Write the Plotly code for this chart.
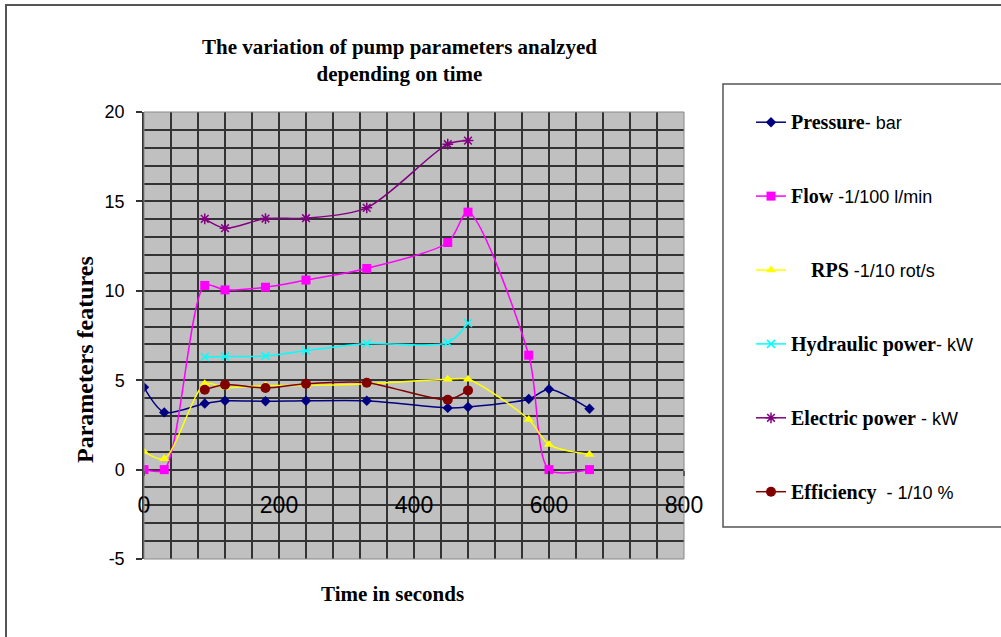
import plotly.graph_objects as go

# ---- data ----
time_all = [0, 30, 90, 120, 180, 240, 330, 450, 480, 570, 600, 660]
time_mid = [90, 120, 180, 240, 330, 450, 480]

pressure = [4.6, 3.2, 3.7, 3.85, 3.82, 3.85, 3.85, 3.45, 3.5, 3.95, 4.5, 3.4]
flow = [0.0, 0.0, 10.3, 10.05, 10.2, 10.6, 11.25, 12.7, 14.4, 6.4, 0.0, 0.0]
rps = [1.0, 0.6, 4.8, 4.6, 4.7, 4.7, 4.8, 5.05, 5.05, 2.8, 1.4, 0.85]
hydraulic = [6.3, 6.33, 6.35, 6.65, 7.05, 7.1, 8.2]
electric = [14.02, 13.5, 14.04, 14.06, 14.64, 18.2, 18.4]
efficiency = [4.47, 4.75, 4.56, 4.8, 4.86, 3.91, 4.43]

x_ticks = [0, 200, 400, 600, 800]
y_ticks = [-5, 0, 5, 10, 15, 20]

SERIF = "Liberation Serif"
SANS = "Liberation Sans"


def lab(bold, rest):
    return (f'<span style="font-family:{SERIF};font-size:20px"><b>{bold}</b></span>'
            f'{rest}')


series = [
    (lab("Pressure", "- bar"), time_all, pressure, "#000080", "diamond", 8, 0),
    (lab("Flow", " -1/100 l/min"), time_all, flow, "#FF00FF", "square", 9, 0),
    (lab("\u00a0\u00a0\u00a0\u00a0RPS", " -1/10 rot/s"), time_all, rps, "#FFFF00", "triangle-up", 9, 0),
    (lab("Hydraulic power", "- kW"), time_mid, hydraulic, "#00FFFF", "x-thin", 8, 1.5),
    (lab("Electric power", " - kW"), time_mid, electric, "#800080", "asterisk", 9, 1.5),
    (lab("Efficiency", "  - 1/10 %"), time_mid, efficiency, "#800000", "circle", 10, 0),
]

fig = go.Figure()
for i, (name, xs, ys, col, sym, size, lw) in enumerate(series):
    fig.add_trace(go.Scatter(
        x=xs, y=ys, name=name, mode="lines+markers",
        line=dict(color=col, width=1.5, shape="spline", smoothing=0.8),
        marker=dict(symbol=sym, size=size, color=col,
                    line=dict(color=col, width=lw)),
        legendgroup=f"g{i}",
    ))

L, R, T, B = 144, 684, 112, 559
W, H = 1001, 637
pw, ph = R - L, B - T


def px(x):
    return (x - L) / pw


def py(y):
    return (B - y) / ph


GRID = "#333333"

fig.update_layout(
    width=W, height=H,
    margin=dict(l=L, r=W - R, t=T, b=H - B, autoexpand=False, pad=0),
    paper_bgcolor="white",
    plot_bgcolor="#C0C0C0",
    showlegend=True,
    legend=dict(
        x=px(751), y=py(104), xanchor="left", yanchor="top",
        bgcolor="rgba(0,0,0,0)", borderwidth=0,
        font=dict(family=SANS, size=18, color="black"),
        tracegroupgap=47.5, itemwidth=30, maxheight=620,
    ),
    xaxis=dict(
        range=[0, 800], tickvals=x_ticks, ticktext=[str(v) for v in x_ticks],
        anchor="free", position=0.2,
        showgrid=True, gridcolor=GRID, gridwidth=1.5,
        minor=dict(dtick=40, tick0=0, showgrid=True, gridcolor=GRID, gridwidth=1.5),
        zeroline=False, showline=False,
        ticks="outside", ticklen=5, tickcolor=GRID, tickwidth=1.5,
        ticklabelstandoff=10,
        tickfont=dict(family=SANS, size=23, color="black"),
    ),
    yaxis=dict(
        range=[-5, 20], tickvals=y_ticks, ticktext=[str(v) for v in y_ticks],
        showgrid=True, gridcolor=GRID, gridwidth=1.5,
        minor=dict(dtick=1, tick0=0, showgrid=True, gridcolor=GRID, gridwidth=1.5),
        zeroline=False, showline=True, linecolor=GRID, linewidth=1.5,
        ticks="outside", ticklen=6, tickcolor=GRID, tickwidth=1.5,
        ticklabelstandoff=8,
        tickfont=dict(family=SANS, size=18, color="black"),
    ),
    shapes=[
        # outer chart frame
        dict(type="rect", xref="paper", yref="paper",
             x0=px(6), x1=px(1020), y0=py(660), y1=py(5),
             line=dict(color="#555555", width=2), fillcolor="rgba(0,0,0,0)"),
        # plot-area border
        dict(type="rect", xref="paper", yref="paper",
             x0=0, x1=1, y0=0, y1=1,
             line=dict(color="#888888", width=1), fillcolor="rgba(0,0,0,0)"),
        # legend box
        dict(type="rect", xref="paper", yref="paper",
             x0=px(723), x1=px(1020), y0=py(527), y1=py(84),
             line=dict(color="#555555", width=1.5), fillcolor="rgba(0,0,0,0)"),
    ],
    annotations=[
        dict(text="<b>The variation of pump parameters analzyed<br>depending on time</b>",
             xref="paper", yref="paper", x=px(399), y=py(60),
             xanchor="center", yanchor="middle", showarrow=False,
             font=dict(family=SERIF, size=21, color="black")),
        dict(text="<b>Time in seconds</b>",
             xref="paper", yref="paper", x=px(392), y=py(594),
             xanchor="center", yanchor="middle", showarrow=False,
             font=dict(family=SERIF, size=21, color="black")),
        dict(text="<b>Parameters features</b>", textangle=-90,
             xref="paper", yref="paper", x=px(85), y=py(360),
             xanchor="center", yanchor="middle", showarrow=False,
             font=dict(family=SERIF, size=24, color="black")),
    ],
)

fig.write_html("out.html")
